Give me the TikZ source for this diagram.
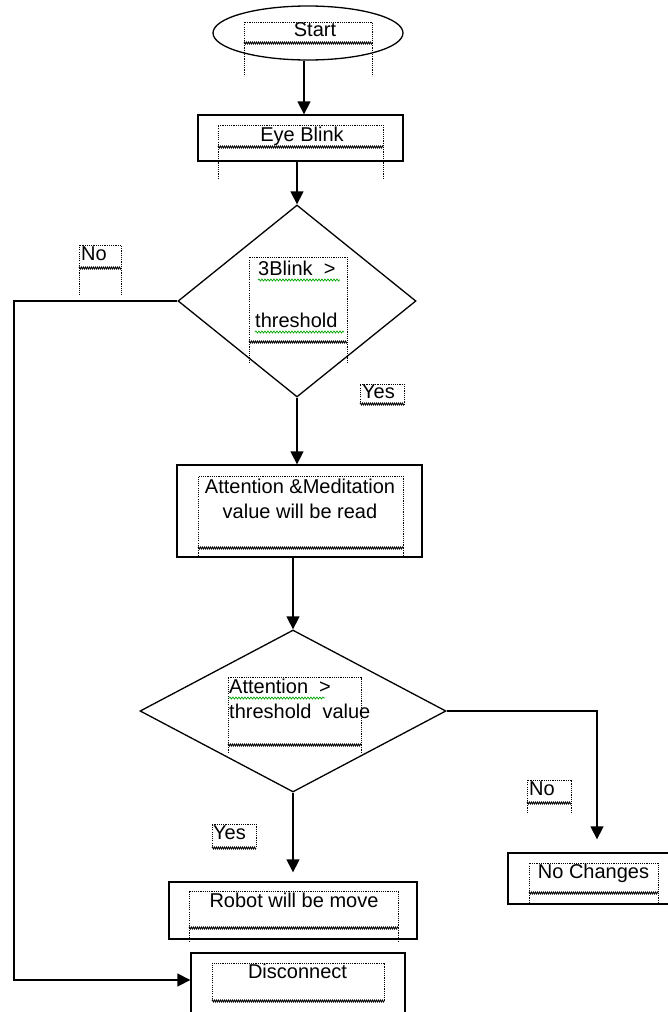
\documentclass[tikz,border=0pt]{standalone}
\usepackage{fontspec}
\setmainfont{Liberation Sans}
\usetikzlibrary{shapes.geometric,arrows.meta,decorations.pathmorphing}
\newcommand\dbox[5]{%
  \draw[tb] (#1,#4) -- (#1,#2) -- (#3,#2) -- (#3,#4);
  \draw[tbw] (#1,#4) -- (#3,#4);
  \draw[tb] (#1,#4) -- (#1,#5) (#3,#4) -- (#3,#5);}
\begin{document}
\begin{tikzpicture}[x=1pt,y=-1pt,
  shp/.style={draw, line width=1.3pt, inner sep=0pt},
  txt/.style={inner sep=0pt, font=\fontsize{20}{24}\selectfont},
  conn/.style={line width=1.3pt, -{Triangle[length=13pt,width=13pt]}},
  tb/.style={line width=0.9pt, dash pattern=on 1.1pt off 1.1pt},
  tbw/.style={line width=0.8pt, decorate, decoration={zigzag, amplitude=1pt, segment length=2pt}},
  sp/.style={draw=green!65!black, line width=0.7pt, decorate, decoration={snake, amplitude=1pt, segment length=3pt}}]
\useasboundingbox (0,0) rectangle (668,1012);
\clip (0,0) rectangle (668,1012);
\fill[white] (0,0) rectangle (668,1012);

% shapes
\node[shp, ellipse, minimum width=190pt, minimum height=54pt] (start) at (308,33) {};
\node[shp, rectangle, minimum width=205pt, minimum height=46pt] (eye) at (300.5,138) {};
\node[shp, diamond, minimum width=238pt, minimum height=192pt] (d1) at (297,301) {};
\node[shp, rectangle, minimum width=245pt, minimum height=92pt] (att) at (299.5,511) {};
\node[shp, diamond, minimum width=306pt, minimum height=162pt] (d2) at (293,711) {};
\node[shp, rectangle, minimum width=172pt, minimum height=51pt] (nochg) at (594,878.5) {};
\node[shp, rectangle, minimum width=248pt, minimum height=57pt] (robot) at (293,910.5) {};
\node[shp, rectangle, minimum width=214pt, minimum height=87pt] (disc) at (298,996.5) {};

% dotted text boxes
\dbox{244}{22}{372}{43}{76}
\dbox{218}{125}{383}{147}{178}
\dbox{249}{257}{347}{342}{363}
\dbox{79}{245}{121}{268}{295}
\dbox{360}{384}{404}{404}{404}
\dbox{198}{476}{403}{548}{557}
\dbox{228}{677}{361}{745}{753}
\dbox{527}{780}{571}{803}{812}
\dbox{529}{863}{658}{893}{905}
\dbox{212}{824}{256}{848}{848}
\dbox{189}{891}{398}{928}{942}
\dbox{212}{963}{384}{1001}{1001}

% texts
\node[txt, anchor=base] (tstart) at (315,36.5) {Start};
\node[txt, anchor=base] (teye) at (302,141) {Eye Blink};
\node[txt, anchor=base west] (td1a) at (258,275) {3Blink\ \ >};
\node[txt, anchor=base west] (td1b) at (255,327) {threshold};
\node[txt, anchor=base west] (tno1) at (81,260) {No};
\node[txt, anchor=base west] (tyes1) at (362,398) {Yes};
\node[txt, anchor=base] (tatt1) at (300,493) {Attention \&Meditation};
\node[txt, anchor=base] (tatt2) at (300,518) {value will be read};
\node[txt, anchor=base west] (td2a) at (229,693) {Attention\ \ >};
\node[txt, anchor=base west] (td2b) at (229,718) {threshold\ \ value};
\node[txt, anchor=base west] (tno2) at (529,795) {No};
\node[txt, anchor=base] (tnochg) at (593.5,878) {No Changes};
\node[txt, anchor=base west] (tyes2) at (213,839) {Yes};
\node[txt, anchor=base] (trobot) at (294,907) {Robot will be move};
\node[txt, anchor=base] (tdisc) at (297.5,978) {Disconnect};

% spell-check underlines
\draw[sp] (258,280) -- (340,280);
\draw[sp] (255,332) -- (344,332);
\draw[sp] (229,698) -- (325,698);

% connectors
\draw[conn] ([xshift=-4pt]start.south) -- ([xshift=-4pt]start.south |- eye.north);
\draw[conn] (eye.south -| d1.north) -- (d1.north);
\draw[conn] (d1.south) -- (d1.south |- att.north);
\draw[conn] (att.south -| d2.north) -- (d2.north);
\draw[conn, shorten >=9pt] (d2.south) -- (robot.north);
\draw[conn, shorten >=13pt] (d2.east) -| ([xshift=3pt]nochg.north);
\coordinate (nbend) at (14,980);
\draw[conn] (d1.west) -| (nbend) -- (nbend -| disc.west);
\end{tikzpicture}
\end{document}
